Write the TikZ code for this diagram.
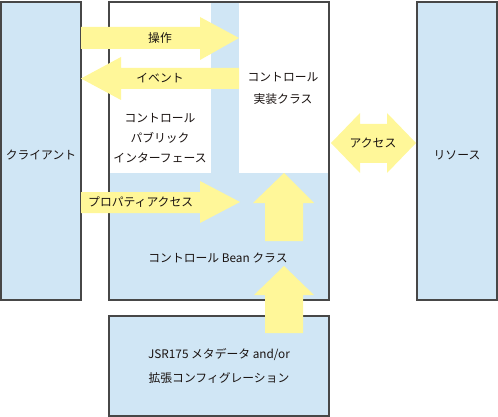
\documentclass[tikz,border=0pt]{standalone}
\usepackage{fontspec}
\setmainfont{Noto Sans CJK JP}
\begin{document}
\begin{tikzpicture}[x=1pt,y=-1pt,
  boxline/.style={draw=black!72, line width=1.3pt},
  bluefill/.style={fill=blueF},
  yarrow/.style={fill=yellowF, draw=none},
  lbl/.style={font=\fontsize{11.8}{20}\selectfont, text=textC, inner sep=0pt, align=center}]
\definecolor{blueF}{HTML}{D0E6F5}
\definecolor{yellowF}{HTML}{FFF799}
\definecolor{textC}{HTML}{1A1311}
\useasboundingbox (0,0) rectangle (498,417);
% client
\draw[boxline,bluefill] (1,2) rectangle (81,300);
\node[lbl] (client) at (41,155) {クライアント};
% resource
\draw[boxline,bluefill] (417,2) rectangle (497,300);
\node[lbl] (res) at (457,155) {リソース};
% main box
\fill[blueF] (109,2) rectangle (329,300);
\fill[white] (109,2) rectangle (211,173);
\fill[white] (239,2) rectangle (329,173);
\draw[boxline] (109,2) rectangle (329,300);
% bottom box
\draw[boxline,bluefill] (109,316) rectangle (329,416);
% arrows
\fill[yarrow] (81,27) -- (200,27) -- (200,17) -- (239,38) -- (200,60) -- (200,49) -- (81,49) -- cycle;
\fill[yarrow] (239,68) -- (121,68) -- (121,57) -- (81,78.5) -- (121,100) -- (121,89) -- (239,89) -- cycle;
\fill[yarrow] (81,192) -- (200,192) -- (200,181) -- (240,202) -- (200,223) -- (200,213) -- (81,213) -- cycle;
\fill[yarrow] (265,241) -- (265,203) -- (253,203) -- (284,173) -- (314,203) -- (303,203) -- (303,241) -- cycle;
\fill[yarrow] (265,333) -- (265,295) -- (254,295) -- (284,266) -- (314,295) -- (303,295) -- (303,333) -- cycle;
\fill[yarrow] (331,143) -- (360,113) -- (360,124) -- (387,124) -- (387,113) -- (416,143) -- (387,173) -- (387,163) -- (360,163) -- (360,173) -- cycle;
% labels
\node[lbl] (op) at (160,38) {操作};
\node[lbl] (ev) at (160,78) {イベント};
\node[lbl] (pub) at (160,138) {コントロール\\パブリック\\インターフェース};
\node[lbl, font=\fontsize{11.8}{22}\selectfont] (impl) at (283,88) {コントロール\\実装クラス};
\node[lbl, anchor=west] (prop) at (88,202) {プロパティアクセス};
\node[lbl] (bean) at (218,258) {コントロール Bean クラス};
\node[lbl] (acc) at (373,143) {アクセス};
\node[lbl, font=\fontsize{11.8}{24}\selectfont] (jsr) at (219,366) {JSR175 メタデータ and/or\\拡張コンフィグレーション};
\end{tikzpicture}
\end{document}
